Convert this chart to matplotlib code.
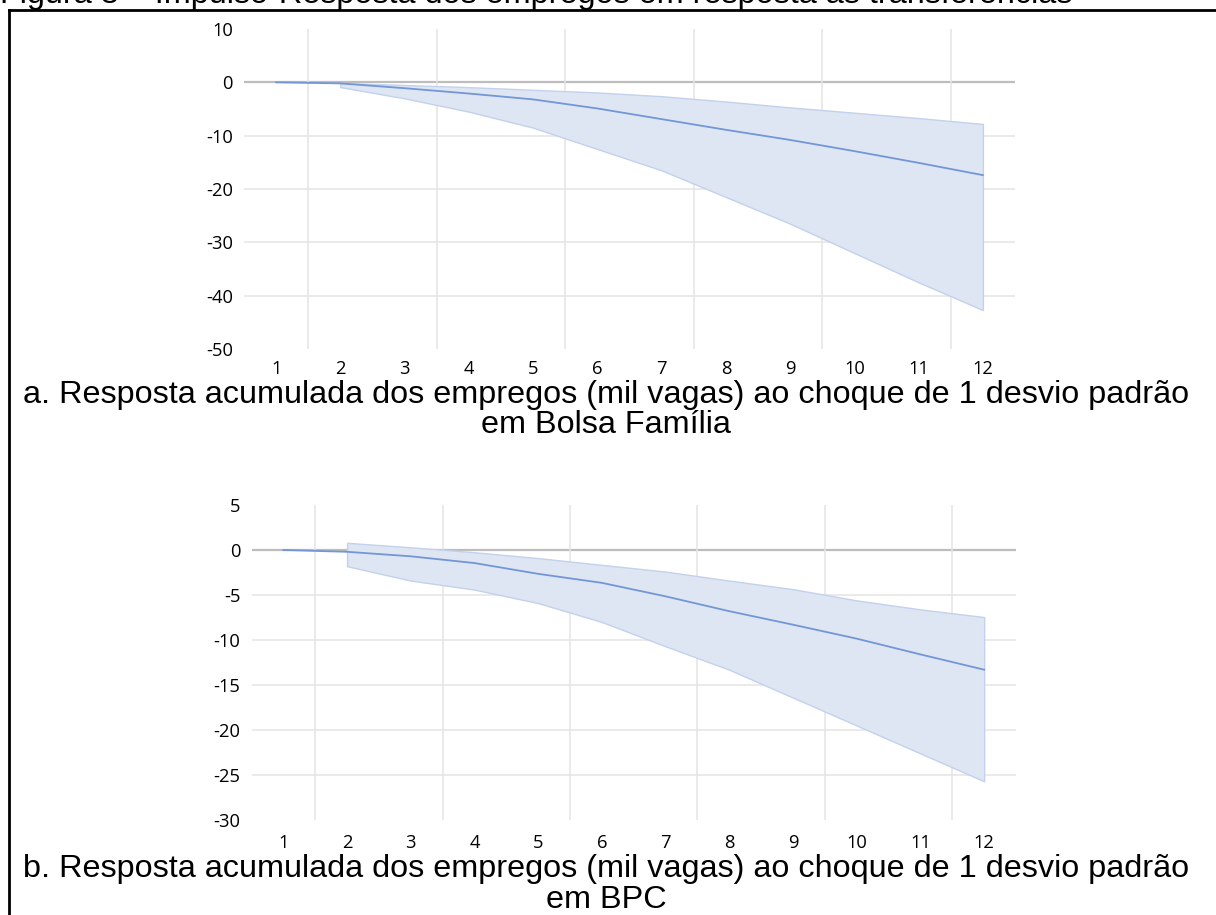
import numpy as np
import matplotlib
matplotlib.use("Agg")
import matplotlib.pyplot as plt

plt.rcParams['axes.unicode_minus'] = False

# ---- data ----
periods = list(range(1, 13))
tick_labels = [str(p) for p in periods]

bf_resp  = [0.0, -0.2, -1.1, -2.1, -3.2, -4.9, -6.9, -8.9, -10.8, -12.9, -15.1, -17.4]
bf_upper = [np.nan, -0.1, -0.5, -0.9, -1.4, -1.9, -2.6, -3.6, -4.7, -5.7, -6.7, -7.8]
bf_lower = [np.nan, -0.9, -3.0, -5.5, -8.5, -12.5, -16.5, -21.5, -26.5, -32.0, -37.5, -42.7]

bpc_resp  = [0.0, -0.2, -0.7, -1.45, -2.65, -3.65, -5.15, -6.8, -8.3, -9.85, -11.6, -13.3]
bpc_upper = [np.nan, 0.8, 0.3, -0.25, -0.9, -1.65, -2.4, -3.4, -4.35, -5.6, -6.6, -7.45]
bpc_lower = [np.nan, -1.8, -3.4, -4.4, -5.9, -8.0, -10.7, -13.3, -16.4, -19.5, -22.6, -25.7]

bf_yticks = [10, 0, -10, -20, -30, -40, -50]
bpc_yticks = [5, 0, -5, -10, -15, -20, -25, -30]

title = "Figura 3 – Impulso-Resposta dos empregos em resposta às transferências"
cap_a = "a. Resposta acumulada dos empregos (mil vagas) ao choque de 1 desvio padrão\nem Bolsa Família"
cap_b = "b. Resposta acumulada dos empregos (mil vagas) ao choque de 1 desvio padrão\nem BPC"

# ---- figure ----
W, H = 1216, 915
fig = plt.figure(figsize=(W / 100, H / 100), dpi=100)

LINE = '#7296d6'
FILL = '#dfe6f3'
EDGE = '#c3d1ec'
GRID = '#e4e4e4'
ZERO = '#bdbdbd'
TICKFONT = 'Open Sans'
CAPFONT = 'Liberation Sans'
CAPSIZE = 23.3


def panel(rect, resp, upper, lower, yticks, label_pad):
    ax = fig.add_axes(rect)
    x = np.array(periods, dtype=float)
    up = np.array(upper, dtype=float)
    lo = np.array(lower, dtype=float)
    m = ~np.isnan(up)
    ax.fill_between(x[m], lo[m], up[m], facecolor=FILL, edgecolor=EDGE,
                    linewidth=1.0, zorder=2)
    ax.plot(x, resp, color=LINE, linewidth=1.3, zorder=4)
    ax.set_xlim(0.5, 12.5)
    ax.set_ylim(min(yticks), max(yticks))
    # gridlines
    for v in yticks[1:-1]:
        if v == 0:
            ax.axhline(v, color=ZERO, linewidth=1.6, zorder=1)
        else:
            ax.axhline(v, color=GRID, linewidth=1.1, zorder=1)
    for v in np.arange(1.5, 12.5, 2.0):
        ax.axvline(v, color=GRID, linewidth=1.1, zorder=1)
    ax.set_xticks(periods)
    ax.set_xticklabels(tick_labels)
    ax.set_yticks(yticks)
    ax.set_yticklabels([str(v) for v in yticks])
    ax.tick_params(axis='both', length=0, labelsize=13.2, colors='#000000')
    ax.tick_params(axis='x', pad=label_pad)
    ax.tick_params(axis='y', pad=8)
    for lab in ax.get_xticklabels() + ax.get_yticklabels():
        lab.set_fontfamily(TICKFONT)
    for s in ax.spines.values():
        s.set_visible(False)
    ax.set_facecolor('white')
    return ax


panel([244 / W, 1 - 349 / H, (1015 - 244) / W, (349 - 29) / H],
      bf_resp, bf_upper, bf_lower, bf_yticks, 8)
panel([251.5 / W, 1 - 820 / H, (1016 - 251.5) / W, (820 - 505) / H],
      bpc_resp, bpc_upper, bpc_lower, bpc_yticks, 10)

# captions (two lines each)
for (l1, l2), (y1, y2) in [(cap_a.split("\n"), (391.5, 421.5)),
                           (cap_b.split("\n"), (865.0, 896.0))]:
    fig.text(606 / W, 1 - y1 / H, l1, ha='center', va='center_baseline',
             fontsize=CAPSIZE, family=CAPFONT)
    fig.text(606 / W, 1 - y2 / H, l2, ha='center', va='center_baseline',
             fontsize=CAPSIZE, family=CAPFONT)

# clipped title at the very top
fig.text(0 / W, 1 - 3.5 / H, title, ha='left', va='baseline',
         fontsize=CAPSIZE, family=CAPFONT)

# frame: top and left borders
fig.add_artist(plt.Line2D([9 / W, 1.0], [1 - 10 / H, 1 - 10 / H],
                          transform=fig.transFigure, color='black', linewidth=2))
fig.add_artist(plt.Line2D([9 / W, 9 / W], [0, 1 - 10 / H],
                          transform=fig.transFigure, color='black', linewidth=2))

fig.savefig('out.png', dpi=100, facecolor='white')
